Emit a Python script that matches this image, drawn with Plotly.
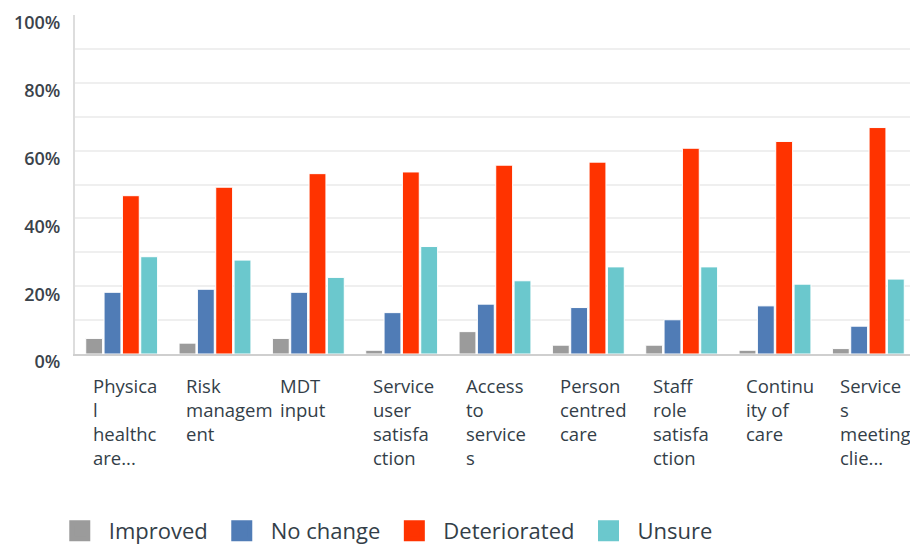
import plotly.graph_objects as go

categories = ["Physica\nl\nhealthc\nare...", "Risk\nmanagem\nent", "MDT\ninput",
              "Service\nuser\nsatisfa\nction", "Access\nto\nservice\ns", "Person\ncentred\ncare",
              "Staff\nrole\nsatisfa\nction", "Continu\nity of\ncare", "Service\ns\nmeeting\nclie..."]
improved = [4.6, 3.2, 4.6, 1.1, 6.6, 2.6, 2.6, 1.1, 1.6]
no_change = [18.2, 19.1, 18.2, 12.2, 14.7, 13.7, 10.1, 14.2, 8.2]
deteriorated = [46.7, 49.2, 53.2, 53.7, 55.7, 56.6, 60.7, 62.7, 66.8]
unsure = [28.7, 27.7, 22.6, 31.7, 21.6, 25.7, 25.7, 20.6, 22.1]
series_names = ["Improved", "No change", "Deteriorated", "Unsure"]
colors = ["#9b9b9b", "#507cb6", "#ff3300", "#6bc8cd"]
ytick_vals = [0, 20, 40, 60, 80, 100]
ytick_text = ["0%", "20%", "40%", "60%", "80%", "100%"]

idx = list(range(len(categories)))
fig = go.Figure()
for name, vals, col in zip(series_names, [improved, no_change, deteriorated, unsure], colors):
    fig.add_trace(go.Bar(x=idx, y=vals, name=name, showlegend=False, legendgroup=name,
                         marker=dict(color=col, line=dict(color="white", width=1))))
# legend entries (large square swatches)
for name, col in zip(series_names, colors):
    fig.add_trace(go.Scatter(x=[None], y=[None], mode="markers", name=name, legendgroup=name,
                             marker=dict(symbol="square", size=16, color=col,
                                         line=dict(color=col, width=5))))

for i, c in enumerate(categories):
    fig.add_annotation(x=i - 0.33, xref="x", y=-0.049, yref="paper", xanchor="left", yanchor="top",
                       align="left", showarrow=False, text=c.replace("\n", "<br>"),
                       font=dict(family="Open Sans", size=18.5, color="#333e48"))

fig.update_layout(
    width=910, height=544,
    margin=dict(l=67, r=3, t=7, b=198),
    paper_bgcolor="white", plot_bgcolor="white",
    barmode="group", bargap=0.214, bargroupgap=0.08,
    showlegend=True,
    legend=dict(orientation="h", x=0.047, xanchor="left", xref="container",
                y=0.0386, yref="container", yanchor="middle",
                font=dict(family="Open Sans", size=22, color="#333e48"), itemwidth=48,
                itemsizing="trace"),
    font=dict(family="Open Sans"),
)
fig.update_xaxes(range=[-0.5, len(categories) - 0.5], showticklabels=False, showgrid=False,
                 showline=True, linecolor="#cfcfcf", linewidth=2, zeroline=False, fixedrange=True,
                 automargin=False)
fig.update_yaxes(range=[0, 100], tickvals=ytick_vals, ticktext=ytick_text, showgrid=False,
                 ticklabelposition="outside", ticklabelshift=8, ticklabelstandoff=9, automargin=False,
                 tickfont=dict(family="Open Sans", size=18, color="#3b434b", weight=600),
                 showline=True, linecolor="#dddddd", linewidth=2, zeroline=False,
                 minor=dict(tickvals=[10, 20, 30, 40, 50, 60, 70, 80, 90], showgrid=True,
                            gridcolor="#efefef", gridwidth=2, ticks=""))

fig.write_html("out.html")
